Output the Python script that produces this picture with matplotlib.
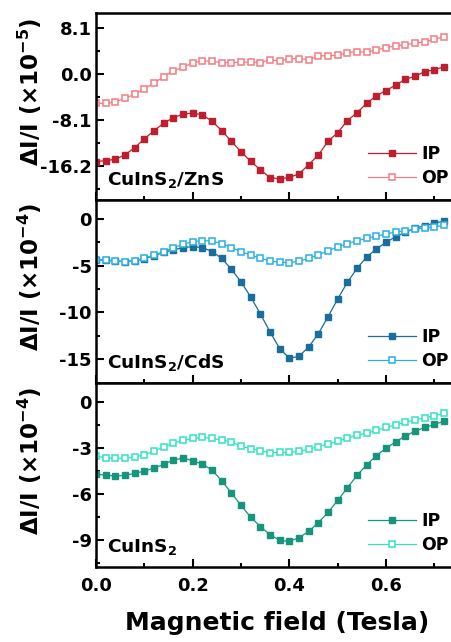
import matplotlib
matplotlib.use('Agg')
import matplotlib.pyplot as plt
from matplotlib.ticker import MultipleLocator
import numpy as np

plt.rcParams['font.family'] = ['DejaVu Sans']
plt.rcParams['font.weight'] = 'bold'
plt.rcParams['mathtext.fontset'] = 'dejavusans'
plt.rcParams['mathtext.default'] = 'bf'

# magnetic field (Tesla), 0.02 T steps
field = np.round(np.arange(0, 0.73, 0.02), 2)

# CuInS2/ZnS  (x1e-5)
zns_ip = [-15.44, -15.26, -15.03, -14.26, -12.97, -11.45, -9.98, -8.69, -7.69, -7.10,
          -6.87, -7.22, -8.33, -9.98, -11.86, -13.73, -15.38, -16.90, -18.25, -18.49,
          -18.20, -17.61, -15.97, -14.26, -11.86, -10.33, -8.22, -6.81, -5.17, -3.82,
          -2.93, -1.94, -0.94, -0.41, 0.41, 0.70, 1.29]
zns_op = [-5.17, -5.17, -4.93, -4.28, -3.58, -2.58, -1.64, -0.47, 0.59, 1.17,
          2.00, 2.29, 2.23, 2.00, 2.00, 2.05, 2.11, 2.00, 2.47, 2.29,
          2.70, 2.70, 2.47, 3.17, 3.23, 3.29, 3.76, 3.93, 3.82, 4.23,
          4.64, 4.93, 5.17, 5.40, 5.64, 6.10, 6.57]

# CuInS2/CdS  (x1e-4)
cds_ip = [-4.38, -4.38, -4.49, -4.56, -4.49, -4.24, -3.92, -3.56, -3.31, -3.06,
          -2.96, -3.06, -3.49, -4.20, -5.38, -6.73, -8.34, -10.15, -12.08, -13.86,
          -14.89, -14.68, -13.68, -12.26, -10.44, -8.55, -6.77, -5.27, -4.06, -3.21,
          -2.49, -1.89, -1.42, -1.00, -0.71, -0.46, -0.21]
cds_op = [-4.38, -4.42, -4.49, -4.56, -4.45, -4.20, -3.85, -3.49, -3.06, -2.71,
          -2.42, -2.32, -2.35, -2.64, -3.06, -3.49, -3.85, -4.20, -4.49, -4.63,
          -4.67, -4.52, -4.20, -3.85, -3.38, -2.99, -2.64, -2.32, -2.07, -1.85,
          -1.60, -1.39, -1.28, -1.10, -0.96, -0.86, -0.68]

# CuInS2  (x1e-4)
cis_ip = [-4.73, -4.77, -4.84, -4.79, -4.66, -4.51, -4.32, -4.08, -3.80, -3.67,
          -3.84, -4.06, -4.45, -5.14, -5.94, -6.75, -7.51, -8.13, -8.66, -9.02,
          -9.09, -8.85, -8.44, -7.87, -7.20, -6.42, -5.60, -4.79, -4.10, -3.51,
          -3.02, -2.60, -2.23, -1.91, -1.67, -1.48, -1.26]
cis_op = [-3.54, -3.64, -3.69, -3.67, -3.60, -3.45, -3.23, -2.93, -2.69, -2.52,
          -2.39, -2.32, -2.39, -2.49, -2.62, -2.89, -3.06, -3.19, -3.32, -3.30,
          -3.30, -3.23, -3.08, -2.93, -2.75, -2.58, -2.34, -2.19, -2.04, -1.87,
          -1.67, -1.50, -1.34, -1.19, -1.04, -0.91, -0.76]

panels = [
    dict(ip=zns_ip, op=zns_op, name=r'CuInS$_{2}$/ZnS', exp='-5',
         c_ip='#BE1E2D', c_op='#F47C84', ylim=(-22.2, 10.74), major=8.1,
         ticks=[8.1, 0.0, -8.1, -16.2], fmt='{:.1f}'),
    dict(ip=cds_ip, op=cds_op, name=r'CuInS$_{2}$/CdS', exp='-4',
         c_ip='#1A6E9C', c_op='#2AAEE4', ylim=(-17.54, 2.03), major=5,
         ticks=[0, -5, -10, -15], fmt='{:.0f}'),
    dict(ip=cis_ip, op=cis_op, name=r'CuInS$_{2}$', exp='-4',
         c_ip='#17957C', c_op='#34E2C2', ylim=(-10.76, 1.22), major=3,
         ticks=[0, -3, -6, -9], fmt='{:.0f}'),
]

fig = plt.figure(figsize=(4.52, 6.42), dpi=100)
left = 0.2124
width = 0.8022
bounds = [(0.6885, 0.2913), (0.4034, 0.2851), (0.1168, 0.2866)]

axes = []
for (b, h), p in zip(bounds, panels):
    ax = fig.add_axes([left, b, width, h])
    ax.plot(field, p['ip'], '-s', color=p['c_ip'], ms=5, lw=0.9,
            mfc=p['c_ip'], mec=p['c_ip'], label='IP')
    ax.plot(field, p['op'], '-s', color=p['c_op'], ms=5, lw=0.9,
            mfc='white', mec=p['c_op'], mew=1.1, label='OP')
    ax.set_xlim(0, 0.75)
    ax.set_ylim(*p['ylim'])
    ax.set_yticks(p['ticks'])
    ax.set_yticklabels([p['fmt'].format(t) for t in p['ticks']])
    ax.yaxis.set_minor_locator(MultipleLocator(p['major'] / 2))
    ax.xaxis.set_major_locator(MultipleLocator(0.2))
    ax.xaxis.set_minor_locator(MultipleLocator(0.1))
    ax.tick_params(which='both', direction='in', width=1.5, labelsize=13)
    ax.tick_params(which='major', length=6)
    ax.tick_params(which='minor', length=3)
    ax.tick_params(axis='y', pad=3)
    ax.tick_params(axis='x', pad=7)
    for s in ax.spines.values():
        s.set_linewidth(1.8)
    ax.set_ylabel(r'$\Delta$I/I ($\times$10$^{' + p['exp'] + '}$)', fontsize=16.5,
                  fontweight='bold')
    ax.yaxis.set_label_coords(-0.143, 0.58)
    ax.text(0.03, 0.082, p['name'], transform=ax.transAxes, fontsize=13.3,
            fontweight='bold', va='baseline', ha='left')
    ax.legend(loc='lower left', bbox_to_anchor=(0.749, 0.07), frameon=False,
              fontsize=12.5, handlelength=2.8, handletextpad=0.3, borderpad=0,
              borderaxespad=0, labelspacing=0.35)
    axes.append(ax)

for ax in axes[:-1]:
    ax.tick_params(axis='x', labelbottom=False)

axes[-1].set_xlabel('Magnetic field (Tesla)', fontsize=18, fontweight='bold',
                    labelpad=12)

fig.savefig('out.png', dpi=100)
